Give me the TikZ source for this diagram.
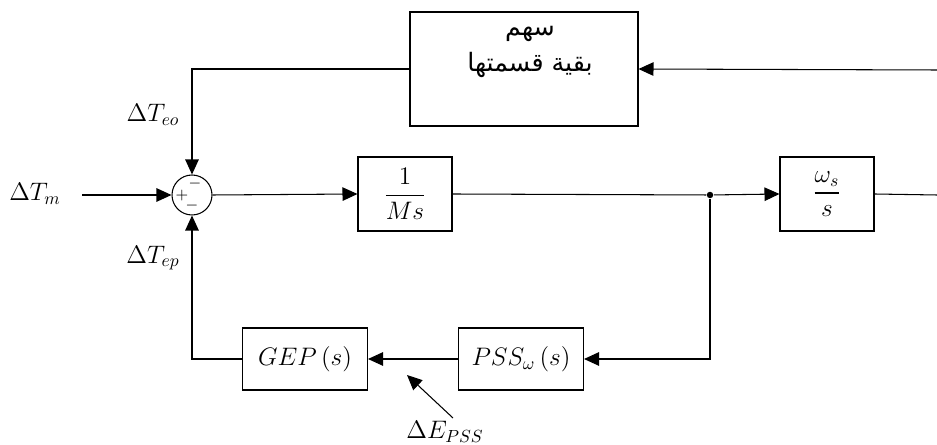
\documentclass[tikz,border=0pt]{standalone}
\usepackage{amsmath}
\usepackage{fontspec}
\newfontfamily\arabicfont[Script=Arabic]{DejaVu Sans}
\TeXXeTstate=1
\usetikzlibrary{arrows.meta}

\begin{document}
\begin{tikzpicture}[x=0.02cm,y=-0.02cm,
  >={Triangle[length=3mm,width=2.7mm]},
  every path/.style={line width=0.6pt},
  blk/.style={draw,rectangle,inner sep=0pt},
  lbl/.style={font=\Large}]
\useasboundingbox (0,0) rectangle (937,445);

% blocks
\node[blk,minimum width=4.56cm,minimum height=2.28cm] (tebox) at (524,69) {};
\node[font=\arabicfont\Large,align=center] (tetext) at (530,52) {\beginR سهم\endR\\[2pt]\beginR بقية قسمتها\endR};
\node[draw,circle,minimum size=0.8cm,inner sep=0pt] (sum) at (192,195) {};
\node[font=\small] (plus) at (182,196) {$+$};
\node[font=\small] (mtop) at (195,184) {$-$};
\node[font=\small] (mbot) at (192,206) {$-$};
\node[blk,minimum width=1.88cm,minimum height=1.48cm,lbl] (msbox) at (405,194) {$\displaystyle\frac{1}{Ms}$};
\node[blk,minimum width=1.88cm,minimum height=1.48cm,lbl] (wbox) at (827,194) {$\displaystyle\frac{\omega_s}{s}$};
\node[blk,minimum width=2.5cm,minimum height=1.24cm,lbl] (gepbox) at (305,359) {$GEP\,(s)$};
\node[blk,minimum width=2.5cm,minimum height=1.24cm,lbl] (pssbox) at (521,359) {$PSS_{\omega}\,(s)$};

% points
\coordinate (rtop) at (937,70);
\coordinate (rout) at (937,195);
\coordinate (tmin) at (82,195);
\coordinate (eptail) at (453,418);
\coordinate (eptip) at (407,375);
\node[circle,fill=black,inner sep=1.3pt] (br) at (710,195) {};

% labels
\node[lbl] (tm) at (35,194) {$\Delta T_m$};
\node[lbl] (teo) at (153,115) {$\Delta T_{eo}$};
\node[lbl] (tep) at (153,258) {$\Delta T_{ep}$};
\node[lbl,anchor=south,inner sep=1pt] (epss) at (445,445) {$\Delta E_{PSS}$};

% connections
\draw[->] (rtop) -- (tebox.east);
\draw[->] (tebox.west) -| (sum.north);
\draw[->] (tmin) -- (sum.west);
\draw[->] (sum.east) -- (msbox.west);
\draw (msbox.east) -- (br);
\draw[->] (br) -- (wbox.west);
\draw (wbox.east) -- (rout);
\draw[->] (br) |- (pssbox.east);
\draw[->] (pssbox.west) -- (gepbox.east);
\draw[->] (gepbox.west) -| (sum.south);
\draw[->] (eptail) -- (eptip);
\end{tikzpicture}
\end{document}
